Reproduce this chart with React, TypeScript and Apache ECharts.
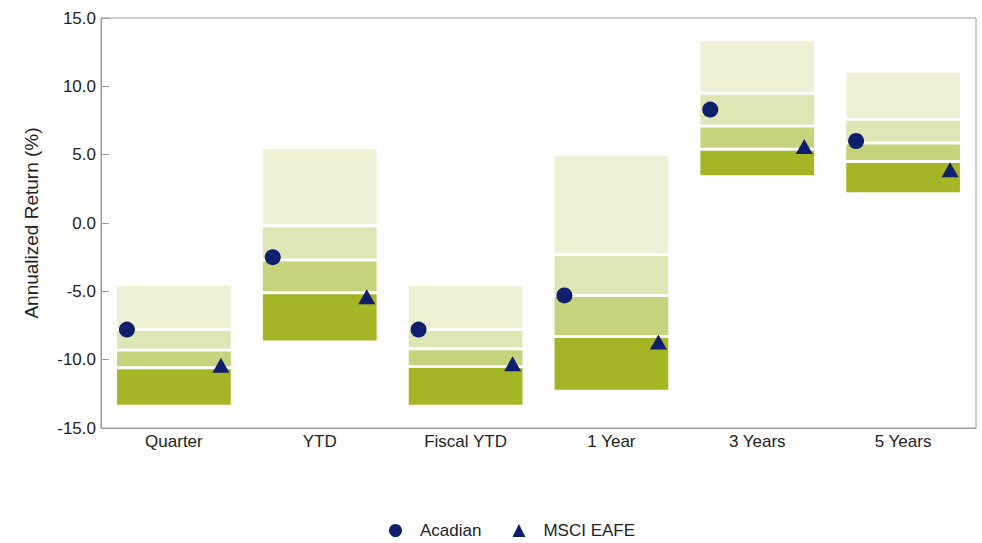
import React, { useEffect, useRef } from "react";
import * as echarts from "echarts";

const categories = ["Quarter", "YTD", "Fiscal YTD", "1 Year", "3 Years", "5 Years"];
// percentile band edges (top, 25th, median, 75th, bottom)
const bandTop = [-4.6, 5.4, -4.6, 4.9, 13.3, 11.0];
const band25 = [-7.8, -0.2, -7.8, -2.3, 9.5, 7.6];
const bandMedian = [-9.3, -2.7, -9.2, -5.3, 7.1, 5.85];
const band75 = [-10.6, -5.1, -10.5, -8.3, 5.4, 4.5];
const bandBottom = [-13.3, -8.6, -13.3, -12.2, 3.5, 2.25];
const acadian = [-7.8, -2.5, -7.8, -5.3, 8.3, 6.0];
const msciEafe = [-10.4, -5.4, -10.3, -8.7, 5.6, 3.9];
const yTicks = { min: -15, max: 15, interval: 5 };

const segColors = ["#eef1d6", "#dfe6b6", "#c7d37c", "#a5b526"];
const markerColor = "#0f1f6b";
const font = "Liberation Sans, Arial, sans-serif";

export default function App() {
  const ref = useRef<HTMLDivElement>(null);
  useEffect(() => {
    document.body.style.margin = "0";
    if (!ref.current) return;
    const chart = echarts.init(ref.current, null, { renderer: "svg" });
    const bandData = categories.map((_, i) => [
      i,
      bandTop[i],
      band25[i],
      bandMedian[i],
      band75[i],
      bandBottom[i],
    ]);
    chart.setOption({
      animation: false,
      textStyle: { fontFamily: font },
      grid: { left: 101, top: 18, right: 6, bottom: 115, show: true, borderColor: "#9a9a9a", borderWidth: 1 },
      legend: {
        top: 522,
        left: 389,
        padding: 0,
        itemGap: 31,
        itemWidth: 13,
        itemHeight: 13,
        textStyle: { fontSize: 17, color: "#222", fontFamily: font, padding: [0, 0, 0, 13] },
        data: [
          { name: "Acadian", icon: "circle" },
          { name: "MSCI EAFE", icon: "triangle" },
        ],
      },
      xAxis: {
        type: "category",
        data: categories,
        axisLine: { onZero: false, lineStyle: { color: "#9a9a9a" } },
        axisTick: { show: false },
        axisLabel: { fontSize: 17, color: "#222", margin: 5 },
        splitLine: { show: false },
      },
      yAxis: {
        type: "value",
        min: yTicks.min,
        max: yTicks.max,
        interval: yTicks.interval,
        name: "Annualized Return (%)",
        nameLocation: "middle",
        nameGap: 60,
        nameTextStyle: { fontSize: 19, color: "#222" },
        axisLine: { show: true, lineStyle: { color: "#9a9a9a" } },
        axisTick: { show: true, inside: true, length: 8, lineStyle: { color: "#9a9a9a" } },
        axisLabel: { fontSize: 17, color: "#222", formatter: (v: number) => v.toFixed(1), margin: 5 },
        splitLine: { show: false },
      },
      series: [
        {
          type: "custom",
          name: "bands",
          data: bandData,
          encode: { x: 0, y: [1, 2, 3, 4, 5] },
          renderItem: (params: any, api: any) => {
            const idx = api.value(0);
            const w = api.size([1, 0])[0] * 0.78;
            const cx = api.coord([idx, 0])[0];
            const ys = [1, 2, 3, 4, 5].map((d) => api.coord([idx, api.value(d)])[1]);
            const children: any[] = [];
            for (let s = 0; s < 4; s++) {
              const y0 = ys[s] + (s === 0 ? 0 : 1.5);
              const y1 = ys[s + 1] - (s === 3 ? 0 : 1.5);
              children.push({
                type: "rect",
                shape: { x: cx - w / 2, y: y0, width: w, height: Math.max(0, y1 - y0) },
                style: { fill: segColors[s] },
              });
            }
            return { type: "group", children };
          },
          z: 1,
        },
        {
          type: "scatter",
          name: "Acadian",
          data: categories.map((c, i) => [c, acadian[i]]),
          symbol: "circle",
          symbolSize: 16,
          symbolOffset: [-47, 0],
          itemStyle: { color: markerColor, opacity: 1 },
          z: 5,
        },
        {
          type: "scatter",
          name: "MSCI EAFE",
          data: categories.map((c, i) => [c, msciEafe[i]]),
          symbol: "triangle",
          symbolSize: [17, 15],
          symbolOffset: [47, 0],
          itemStyle: { color: markerColor, opacity: 1 },
          z: 5,
        },
      ],
    });
    return () => chart.dispose();
  }, []);
  return <div ref={ref} style={{ width: 982, height: 543 }} />;
}
